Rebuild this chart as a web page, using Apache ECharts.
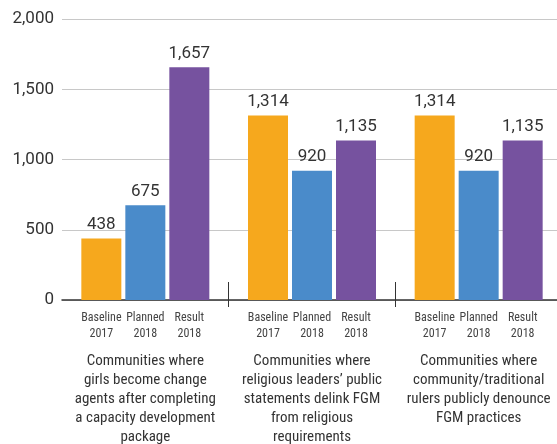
<!DOCTYPE html>
<html>
<head>
<meta charset="utf-8">
<script src="https://cdn.jsdelivr.net/npm/echarts@6/dist/echarts.min.js"></script>
<style>
  html, body { margin: 0; padding: 0; background: #fff; }
  #chart { width: 557px; height: 444px; }
</style>
</head>
<body>
<div id="chart"></div>
<script>
  // group titles on the x axis
  const categories = [
    'Communities where\ngirls become change\nagents after completing\na capacity development\npackage',
    'Communities where\nreligious leaders\u2019 public\nstatements delink FGM\nfrom religious\nrequirements',
    'Communities where\ncommunity/traditional\nrulers publicly denounce\nFGM practices'
  ];
  const seriesNames = ['Baseline 2017', 'Planned 2018', 'Result 2018'];
  const subLabels = ['Baseline\n2017', 'Planned\n2018', 'Result\n2018'];
  const baseline = [438, 1314, 1314];
  const planned = [675, 920, 920];
  const result = [1657, 1135, 1135];
  const yTicks = [0, 500, 1000, 1500, 2000];

  const colorList = ['#f6a81d', '#4a8bca', '#76529f'];
  const narrowFont = '"Roboto Condensed", "Liberation Sans Narrow", "DejaVu Sans Condensed", Roboto';
  const fmt = function (v) {
    return String(v).replace(/\B(?=(\d{3})+(?!\d))/g, ',');
  };

  const chart = echarts.init(document.getElementById('chart'));

  function makeSeries (name, data, k) {
    return {
      name: name,
      type: 'bar',
      data: data,
      barWidth: 40,
      barGap: '10%',
      itemStyle: { color: colorList[k] },
      label: {
        show: true,
        position: 'top',
        distance: 5,
        color: '#333',
        fontFamily: 'Roboto',
        fontSize: 17,
        formatter: function (p) { return fmt(p.value); }
      },
      // 每根柱子下面的小标签
      markPoint: {
        symbol: 'circle',
        symbolSize: 0,
        silent: true,
        animation: false,
        label: {
          show: true,
          position: 'inside',
          offset: [0, 26],
          color: '#444',
          fontFamily: narrowFont,
          fontSize: 12,
          lineHeight: 16,
          align: 'center',
          formatter: function () { return subLabels[k]; }
        },
        data: categories.map(function (c, i) { return { coord: [i, 0] }; })
      }
    };
  }

  chart.setOption({
    animation: false,
    grid: { left: 62, top: 19, width: 500, bottom: 144, outerBoundsMode: 'none' },
    xAxis: [{
      type: 'category',
      data: categories,
      axisLine: { show: true, lineStyle: { color: '#333', width: 1.5 } },
      axisTick: {
        show: true,
        length: 7,
        interval: function (index) { return index > 0; },
        lineStyle: { color: '#333', width: 1 }
      },
      axisLabel: {
        interval: 0,
        margin: 52,
        color: '#333',
        fontFamily: narrowFont,
        fontSize: 15,
        lineHeight: 19
      }
    }, {
      type: 'category',
      data: categories,
      position: 'bottom',
      axisLine: { show: false },
      axisTick: {
        show: true,
        inside: true,
        length: 18,
        interval: function (index) { return index > 0; },
        lineStyle: { color: '#333', width: 1 }
      },
      axisLabel: { show: false }
    }],
    yAxis: {
      type: 'value',
      min: yTicks[0],
      max: yTicks[yTicks.length - 1],
      interval: 500,
      axisLine: { show: false },
      axisTick: { show: false },
      axisLabel: {
        margin: 8,
        color: '#333',
        fontFamily: 'Roboto',
        fontSize: 17,
        formatter: function (v) { return fmt(v); }
      },
      splitLine: { lineStyle: { color: '#c8c8c8', width: 1 } }
    },
    series: [
      makeSeries(seriesNames[0], baseline, 0),
      makeSeries(seriesNames[1], planned, 1),
      makeSeries(seriesNames[2], result, 2)
    ]
  });
</script>
</body>
</html>
